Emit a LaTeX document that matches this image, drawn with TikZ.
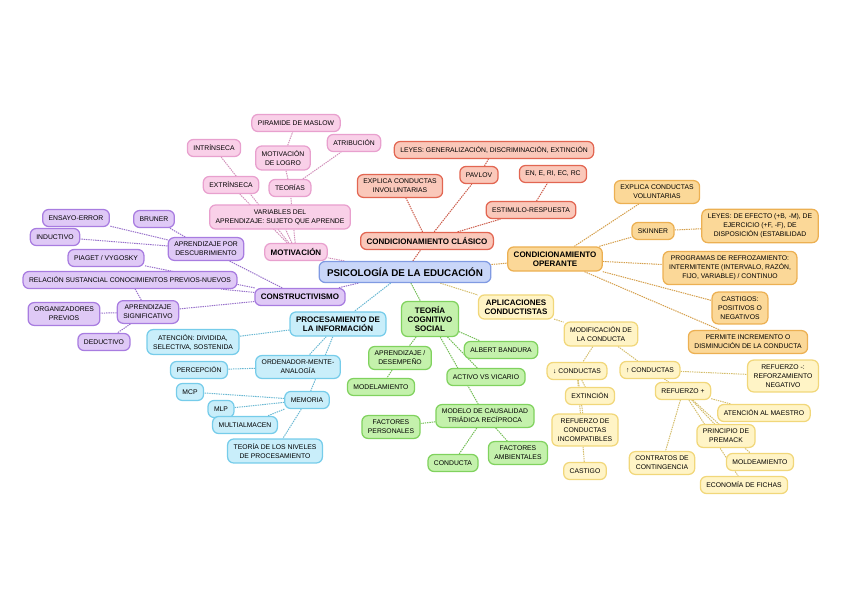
\documentclass[tikz,border=0pt]{standalone}
\usepackage{fontspec}
\setmainfont{Liberation Sans}
\usetikzlibrary{backgrounds}

\definecolor{pinkF}{RGB}{249,208,232}
\definecolor{pinkD}{RGB}{232,160,206}
\definecolor{redF}{RGB}{250,200,186}
\definecolor{redD}{RGB}{226,102,82}
\definecolor{orangeF}{RGB}{251,216,152}
\definecolor{orangeD}{RGB}{236,176,82}
\definecolor{yellowF}{RGB}{255,244,198}
\definecolor{yellowD}{RGB}{241,215,122}
\definecolor{purpleF}{RGB}{223,201,246}
\definecolor{purpleD}{RGB}{168,124,224}
\definecolor{blueF}{RGB}{201,238,250}
\definecolor{blueD}{RGB}{118,204,234}
\definecolor{greenF}{RGB}{196,241,172}
\definecolor{greenD}{RGB}{128,210,94}
\definecolor{centerF}{RGB}{201,214,248}
\definecolor{centerD}{RGB}{128,154,226}

\begin{document}
\begin{tikzpicture}[
    x=1pt, y=-1pt,
    bubble/.style = {rectangle, draw, rounded corners=6pt, line width=1.25pt, align=center,
        inner xsep=6pt, inner ysep=4.5pt, minimum height=17pt,
        font=\fontsize{6.8}{9}\selectfont},
    head/.style = {font=\bfseries\fontsize{8}{9.4}\selectfont},
    motbox/.style = {bubble, fill=pinkF, draw=pinkD},
    ccbox/.style = {bubble, fill=redF, draw=redD},
    cobox/.style = {bubble, fill=orangeF, draw=orangeD},
    aplbox/.style = {bubble, fill=yellowF, draw=yellowD},
    conbox/.style = {bubble, fill=purpleF, draw=purpleD},
    procbox/.style = {bubble, fill=blueF, draw=blueD},
    tcsbox/.style = {bubble, fill=greenF, draw=greenD},
    link/.style = {line width=1pt, dash pattern=on 1.4pt off 0.9pt},
    motlink/.style = {link, draw=pinkD!90!black},
    cclink/.style = {link, draw=redD!90!black},
    colink/.style = {link, draw=orangeD!90!black},
    apllink/.style = {link, draw=yellowD!88!black},
    conlink/.style = {link, draw=purpleD!90!black},
    proclink/.style = {link, draw=blueD!90!black},
    tcslink/.style = {link, draw=greenD!90!black}
]
    \useasboundingbox (0,0) rectangle (848,599);

    \node[bubble, fill=centerF, draw=centerD, font=\bfseries\fontsize{9.8}{11}\selectfont,
        minimum height=21pt, inner xsep=8pt] (psico) at (405,272) {PSICOLOGÍA DE LA EDUCACIÓN};

    % motivacion
    \node[motbox, head] (mot) at (296,252) {MOTIVACIÓN};
    \node[motbox] (varapr) at (280,217) {VARIABLES DEL\\APRENDIZAJE: SUJETO QUE APRENDE};
    \node[motbox] (extr) at (231,185) {EXTRÍNSECA};
    \node[motbox] (intr) at (214,148) {INTRÍNSECA};
    \node[motbox] (teor) at (290,188) {TEORÍAS};
    \node[motbox] (logro) at (283,158) {MOTIVACIÓN\\DE LOGRO};
    \node[motbox] (maslow) at (296,123) {PIRAMIDE DE MASLOW};
    \node[motbox] (atrib) at (354,143) {ATRIBUCIÓN};

    % condicionamiento clasico
    \node[ccbox, head] (cc) at (427,241) {CONDICIONAMIENTO CLÁSICO};
    \node[ccbox] (ccinv) at (400,186) {EXPLICA CONDUCTAS\\INVOLUNTARIAS};
    \node[ccbox] (ccleyes) at (494,150) {LEYES: GENERALIZACIÓN, DISCRIMINACIÓN, EXTINCIÓN};
    \node[ccbox] (pavlov) at (479,175) {PAVLOV};
    \node[ccbox] (ccsig) at (553,174) {EN, E, RI, EC, RC};
    \node[ccbox] (estres) at (531,210) {ESTIMULO-RESPUESTA};

    % condicionamiento operante
    \node[cobox, head] (co) at (555,259) {CONDICIONAMIENTO\\OPERANTE};
    \node[cobox] (covol) at (657,192) {EXPLICA CONDUCTAS\\VOLUNTARIAS};
    \node[cobox] (skinner) at (653,231) {SKINNER};
    \node[cobox] (coleyes) at (760,226) {LEYES: DE EFECTO (+B, -M), DE\\EJERCICIO (+F, -F), DE\\DISPOSICIÓN (ESTABILIDAD};
    \node[cobox] (programas) at (730,268) {PROGRAMAS DE REFROZAMIENTO:\\INTERMITENTE (INTERVALO, RAZÓN,\\FIJO, VARIABLE) / CONTINUO};
    \node[cobox] (castigos) at (740,308) {CASTIGOS:\\POSITIVOS O\\NEGATIVOS};
    \node[cobox] (permite) at (748,342) {PERMITE INCREMENTO O\\DISMINUCIÓN DE LA CONDUCTA};

    % aplicaciones conductistas
    \node[aplbox, head] (apl) at (516,307) {APLICACIONES\\CONDUCTISTAS};
    \node[aplbox] (modif) at (601,334) {MODIFICACIÓN DE\\LA CONDUCTA};
    \node[aplbox] (menos) at (577,371) {↓ CONDUCTAS};
    \node[aplbox] (mas) at (650,370) {↑ CONDUCTAS};
    \node[aplbox] (refneg) at (783,376) {REFUERZO -:\\REFORZAMIENTO\\NEGATIVO};
    \node[aplbox] (refpos) at (683,391) {REFUERZO +};
    \node[aplbox] (extincion) at (590,396) {EXTINCIÓN};
    \node[aplbox] (incompat) at (585,430) {REFUERZO DE\\CONDUCTAS\\INCOMPATIBLES};
    \node[aplbox] (castigo) at (585,471) {CASTIGO};
    \node[aplbox] (atencion) at (764,413) {ATENCIÓN AL MAESTRO};
    \node[aplbox] (premack) at (726,436) {PRINCIPIO DE\\PREMACK};
    \node[aplbox] (contratos) at (662,463) {CONTRATOS DE\\CONTINGENCIA};
    \node[aplbox] (moldea) at (760,462) {MOLDEAMIENTO};
    \node[aplbox] (fichas) at (744,485) {ECONOMÍA DE FICHAS};

    % constructivismo
    \node[conbox, head] (constr) at (300,297) {CONSTRUCTIVISMO};
    \node[conbox] (descub) at (206,249) {APRENDIZAJE POR\\DESCUBRIMIENTO};
    \node[conbox] (bruner) at (154,219) {BRUNER};
    \node[conbox] (ensayo) at (76,218) {ENSAYO-ERROR};
    \node[conbox] (inductivo) at (55,237) {INDUCTIVO};
    \node[conbox] (piaget) at (106,258) {PIAGET / VYGOSKY};
    \node[conbox] (relacion) at (130,280) {RELACIÓN SUSTANCIAL CONOCIMIENTOS PREVIOS-NUEVOS};
    \node[conbox] (signif) at (148,312) {APRENDIZAJE\\SIGNIFICATIVO};
    \node[conbox] (organiz) at (64,314) {ORGANIZADORES\\PREVIOS};
    \node[conbox] (deductivo) at (104,342) {DEDUCTIVO};

    % procesamiento de la informacion
    \node[procbox, head] (proc) at (338,324) {PROCESAMIENTO DE\\LA INFORMACIÓN};
    \node[procbox] (atenc) at (193,342) {ATENCIÓN: DIVIDIDA,\\SELECTIVA, SOSTENIDA};
    \node[procbox] (ordenador) at (298,367) {ORDENADOR-MENTE-\\ANALOGÍA};
    \node[procbox] (percep) at (199,370) {PERCEPCIÓN};
    \node[procbox] (mcp) at (190,392) {MCP};
    \node[procbox] (mlp) at (221,409) {MLP};
    \node[procbox] (memoria) at (307,400) {MEMORIA};
    \node[procbox] (multi) at (245,425) {MULTIALMACEN};
    \node[procbox] (niveles) at (275,451) {TEORÍA DE LOS NIVELES\\DE PROCESAMIENTO};

    % teoria cognitivo social
    \node[tcsbox, head] (tcs) at (430,319) {TEORÍA\\COGNITIVO\\SOCIAL};
    \node[tcsbox] (aprdes) at (400,358) {APRENDIZAJE /\\DESEMPEÑO};
    \node[tcsbox] (modelam) at (381,387) {MODELAMIENTO};
    \node[tcsbox] (bandura) at (501,350) {ALBERT BANDURA};
    \node[tcsbox] (activo) at (486,377) {ACTIVO VS VICARIO};
    \node[tcsbox] (modelo) at (485,416) {MODELO DE CAUSALIDAD\\TRIÁDICA RECÍPROCA};
    \node[tcsbox] (fpers) at (391,427) {FACTORES\\PERSONALES};
    \node[tcsbox] (conducta) at (453,463) {CONDUCTA};
    \node[tcsbox] (famb) at (518,453) {FACTORES\\AMBIENTALES};

    \begin{scope}[on background layer]
    \draw[motlink] (psico) -- (mot);
    \draw[motlink] (mot) -- (varapr);
    \draw[motlink] (mot) -- (extr);
    \draw[motlink] (mot) -- (intr);
    \draw[motlink] (mot) -- (teor);
    \draw[motlink] (teor) -- (logro);
    \draw[motlink] (logro) -- (maslow);
    \draw[motlink] (teor) -- (atrib);

    \draw[cclink] (psico) -- (cc);
    \draw[cclink] (cc) -- (ccinv);
    \draw[cclink] (cc) -- (pavlov);
    \draw[cclink] (pavlov) -- (ccleyes);
    \draw[cclink] (cc) -- (estres);
    \draw[cclink] (estres) -- (ccsig);

    \draw[colink] (psico) -- (co);
    \draw[colink] (co) -- (covol);
    \draw[colink] (co) -- (skinner);
    \draw[colink] (skinner) -- (coleyes);
    \draw[colink] (co) -- (programas);
    \draw[colink] (co) -- (castigos);
    \draw[colink] (co) -- (permite);

    \draw[apllink] (psico) -- (apl);
    \draw[apllink] (apl) -- (modif);
    \draw[apllink] (modif) -- (menos);
    \draw[apllink] (modif) -- (mas);
    \draw[apllink] (menos) -- (extincion);
    \draw[apllink] (menos) -- (incompat);
    \draw[apllink] (menos) -- (castigo);
    \draw[apllink] (mas) -- (refneg);
    \draw[apllink] (mas) -- (refpos);
    \draw[apllink] (refpos) -- (atencion);
    \draw[apllink] (refpos) -- (premack);
    \draw[apllink] (refpos) -- (contratos);
    \draw[apllink] (refpos) -- (moldea);
    \draw[apllink] (refpos) -- (fichas);

    \draw[conlink] (psico) -- (constr);
    \draw[conlink] (constr) -- (descub);
    \draw[conlink] (descub) -- (bruner);
    \draw[conlink] (descub) -- (ensayo);
    \draw[conlink] (descub) -- (inductivo);
    \draw[conlink] (constr) -- (piaget);
    \draw[conlink] (constr) -- (relacion);
    \draw[conlink] (constr) -- (signif);
    \draw[conlink] (signif) -- (relacion);
    \draw[conlink] (signif) -- (organiz);
    \draw[conlink] (signif) -- (deductivo);

    \draw[proclink] (psico) -- (proc);
    \draw[proclink] (proc) -- (atenc);
    \draw[proclink] (proc) -- (ordenador);
    \draw[proclink] (ordenador) -- (percep);
    \draw[proclink] (proc) -- (memoria);
    \draw[proclink] (memoria) -- (mcp);
    \draw[proclink] (memoria) -- (mlp);
    \draw[proclink] (memoria) -- (multi);
    \draw[proclink] (memoria) -- (niveles);

    \draw[tcslink] (psico) -- (tcs);
    \draw[tcslink] (tcs) -- (aprdes);
    \draw[tcslink] (aprdes) -- (modelam);
    \draw[tcslink] (tcs) -- (bandura);
    \draw[tcslink] (tcs) -- (activo);
    \draw[tcslink] (tcs) -- (modelo);
    \draw[tcslink] (modelo) -- (fpers);
    \draw[tcslink] (modelo) -- (conducta);
    \draw[tcslink] (modelo) -- (famb);
    \end{scope}
\end{tikzpicture}
\end{document}
